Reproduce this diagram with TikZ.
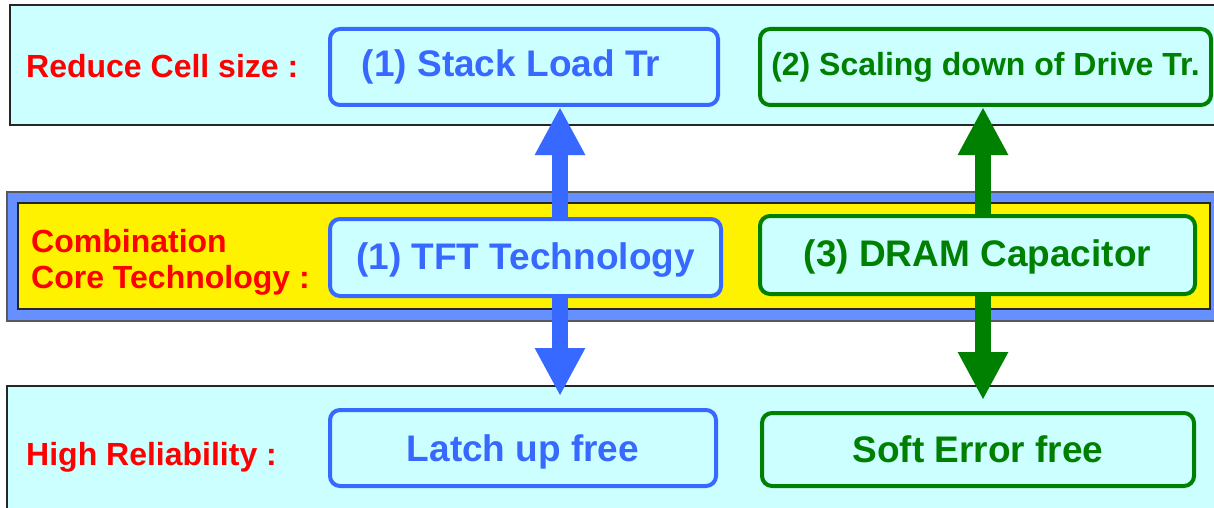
\documentclass[tikz,border=0pt]{standalone}
\usepackage{fontspec}
\setmainfont{Liberation Sans}
\usetikzlibrary{arrows.meta,backgrounds}
\definecolor{bandcyan}{RGB}{204,255,255}
\definecolor{bandblue}{RGB}{102,143,255}
\definecolor{boxblue}{RGB}{55,104,255}
\definecolor{boxgreen}{RGB}{0,128,0}
\definecolor{lblred}{RGB}{255,0,0}
\begin{document}
\begin{tikzpicture}[x=1pt,y=-1pt,
  band/.style={draw=black!85,line width=1.6pt},
  tbox/.style={draw,rounded corners=10pt,line width=4pt,fill=bandcyan,inner sep=0pt,font=\fontsize{37}{44}\selectfont\bfseries},
  bluebox/.style={tbox,draw=boxblue,text=boxblue},
  greenbox/.style={tbox,draw=boxgreen,text=boxgreen},
  lbl/.style={anchor=base west,text=lblred,inner sep=0pt,font=\fontsize{32}{36}\selectfont\bfseries},
  bigarrow/.style={line width=16pt,-{Triangle[width=47pt,length=48pt]}}]
\useasboundingbox (0,0) rectangle (1214,508);
\clip (0,0) rectangle (1214,508);
\begin{scope}[on background layer]
\draw[band,fill=bandcyan] (10,5) rectangle (1224,125);
\draw[band,fill=bandblue,draw=black!65] (7,192) rectangle (1224,321);
\draw[band,fill=yellow] (18,203) rectangle (1210,309);
\draw[band,fill=bandcyan] (7,386) rectangle (1224,520);
\end{scope}
% row labels
\node[lbl] (cellsize) at (26,78) {Reduce Cell size :};
\node[lbl,align=left] (core) at (31,288) {Combination\\Core Technology :};
\node[lbl] (reliab) at (26,465) {High Reliability :};
% boxes
\node[bluebox,minimum width=388pt,minimum height=76pt] (stack) at (524,67) {(1) Stack Load Tr\hspace*{26pt}};
\node[greenbox,minimum width=451pt,minimum height=76pt,font=\fontsize{32}{38}\selectfont\bfseries] (scaling) at (985.5,67) {(2) Scaling down of Drive Tr.};
\node[bluebox,minimum width=391pt,minimum height=77pt,text depth=3pt] (tft) at (525.5,257.5) {(1) TFT Technology};
\node[greenbox,minimum width=435pt,minimum height=78pt,text depth=3pt] (dram) at (977.5,255) {(3) DRAM Capacitor};
\node[bluebox,minimum width=386pt,minimum height=76pt,text depth=0pt] (latch) at (523,448) {Latch up free};
\node[greenbox,minimum width=432pt,minimum height=73pt] (soft) at (978,449.5) {Soft Error free};
% arrows
\begin{scope}[on background layer]
\draw[bigarrow,boxblue] ([xshift=34.5pt]tft.north) -- ([xshift=36pt]stack.south);
\draw[bigarrow,boxblue] ([xshift=34.5pt]tft.south) -- ([xshift=37pt,yshift=12pt]latch.north);
\draw[bigarrow,boxgreen] ([xshift=5.5pt]dram.north) -- ([xshift=-2.5pt]scaling.south);
\draw[bigarrow,boxgreen] ([xshift=5.5pt]dram.south) -- ([xshift=5pt,yshift=11pt]soft.north);
\end{scope}
\end{tikzpicture}
\end{document}
